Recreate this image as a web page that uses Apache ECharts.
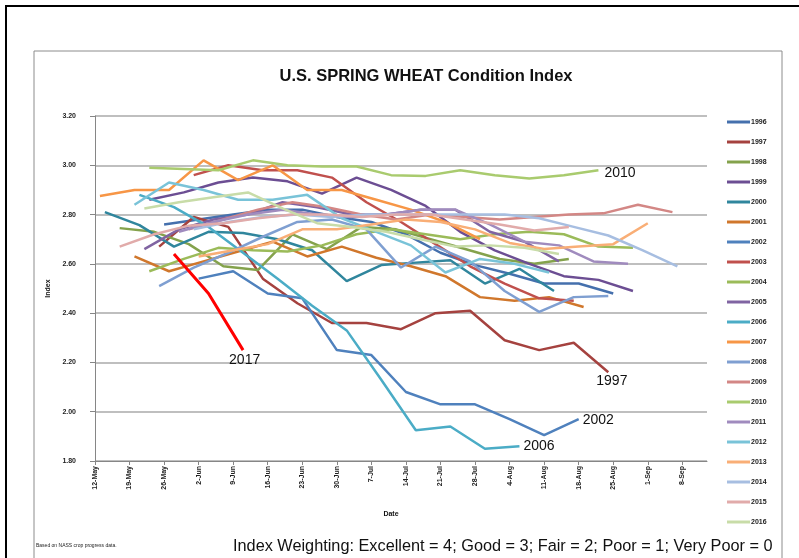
<!DOCTYPE html>
<html>
<head>
<meta charset="utf-8">
<script src="https://cdn.jsdelivr.net/npm/echarts@6/dist/echarts.min.js"></script>
<style>
html,body{margin:0;padding:0;background:#fff;}
#c{width:799px;height:558px;}
</style>
</head>
<body>
<div id="c"></div>
<script>
// ---- data ----
const dateLabels = ['12-May','19-May','26-May','2-Jun','9-Jun','16-Jun','23-Jun','30-Jun','7-Jul','14-Jul','21-Jul','28-Jul','4-Aug','11-Aug','18-Aug','25-Aug','1-Sep','8-Sep'];
const years = ['1996','1997','1998','1999','2000','2001','2002','2003','2004','2005','2006','2007','2008','2009','2010','2011','2012','2013','2014','2015','2016','2017'];
// first report day, counted in days after 12-May (reports are weekly)
const startDays = [14,13,5,11,2,8,21,20,11,10,9,1,13,19,11,17,8,21,20,5,10,16];
const v1996 = [2.76,2.78,2.80,2.82,2.82,2.79,2.77,2.72,2.645,2.595,2.56,2.52,2.52,2.48];
const v1997 = [2.67,2.79,2.75,2.54,2.44,2.36,2.36,2.335,2.40,2.41,2.29,2.25,2.28,2.16];
const v1998 = [2.745,2.73,2.68,2.59,2.575,2.72,2.66,2.75,2.74,2.70,2.66,2.62,2.60,2.62];
const v1999 = [2.86,2.89,2.93,2.95,2.935,2.885,2.95,2.90,2.835,2.73,2.655,2.60,2.55,2.535,2.49];
const v2000 = [2.81,2.757,2.67,2.73,2.725,2.70,2.655,2.53,2.595,2.605,2.615,2.52,2.58,2.49];
const v2001 = [2.63,2.57,2.61,2.65,2.69,2.63,2.67,2.625,2.59,2.55,2.465,2.45,2.465,2.425];
const v2002 = [2.54,2.57,2.48,2.46,2.25,2.23,2.08,2.03,2.03,1.97,1.905,1.97];
const v2003 = [2.96,3.00,2.98,2.98,2.95,2.85,2.77,2.68,2.59,2.52,2.46,2.45];
const v2004 = [2.57,2.62,2.665,2.655,2.65,2.675,2.72,2.74,2.72,2.70,2.72,2.73,2.72,2.67,2.665];
const v2005 = [2.66,2.74,2.78,2.80,2.85,2.83,2.80,2.80,2.82,2.82,2.73,2.69,2.61];
const v2006 = [2.88,2.83,2.75,2.645,2.54,2.43,2.33,2.13,1.925,1.94,1.85,1.86];
const v2007 = [2.875,2.90,2.90,3.02,2.94,3.00,2.90,2.90,2.86,2.82,2.77,2.70];
const v2008 = [2.51,2.585,2.645,2.71,2.77,2.78,2.74,2.585,2.67,2.61,2.49,2.405,2.465,2.47];
const v2009 = [2.74,2.78,2.82,2.85,2.83,2.80,2.78,2.80,2.79,2.78,2.79,2.80,2.805,2.84,2.81];
const v2010 = [2.99,2.985,2.98,3.02,3.00,2.995,2.995,2.96,2.957,2.98,2.96,2.946,2.96,2.98];
const v2011 = [2.73,2.77,2.80,2.82,2.80,2.79,2.80,2.82,2.82,2.76,2.69,2.675,2.61,2.60];
const v2012 = [2.84,2.93,2.90,2.86,2.86,2.88,2.785,2.73,2.675,2.565,2.62,2.60,2.565];
const v2013 = [2.63,2.655,2.68,2.74,2.74,2.76,2.78,2.77,2.74,2.685,2.66,2.67,2.68,2.765];
const v2014 = [2.74,2.77,2.79,2.80,2.79,2.80,2.80,2.80,2.80,2.80,2.785,2.75,2.715,2.655,2.59];
const v2015 = [2.67,2.72,2.755,2.765,2.785,2.80,2.80,2.79,2.80,2.80,2.78,2.76,2.735,2.75];
const v2016 = [2.825,2.85,2.87,2.89,2.825,2.765,2.75,2.73,2.70,2.67,2.675,2.665,2.64];
const v2017 = [2.64,2.48,2.25];
const yTicks = [1.8,2.0,2.2,2.4,2.6,2.8,3.0,3.2];
const labelledYears = ['1997','2002','2006','2010','2017'];

// ---- styling ----
const allValues = [v1996,v1997,v1998,v1999,v2000,v2001,v2002,v2003,v2004,v2005,v2006,v2007,v2008,v2009,v2010,v2011,v2012,v2013,v2014,v2015,v2016,v2017];
const colors = ['#4570AD','#A5423F','#84A24C','#6C4E93','#30869D','#D0772C','#4F81BD','#C0504D','#9BBB59','#8064A2','#4BACC6','#F79646',
  '#7F9FD1','#D38785','#A9CB6E','#A08BBE','#79C3D8','#F9AE76','#A7BEE1','#E1ABAA','#C8DCA8','#FF0000'];
const labelOffsets = {'1997':[-16,9],'2002':[0,1],'2006':[0,0],'2010':[2,3],'2017':[-18,10]};

const series = years.map((y, i) => {
  const data = allValues[i].map((v, k) => [startDays[i] + 7 * k, v]);
  const s = {
    name: y, type: 'line', data: data, symbol: 'none', smooth: false,
    color: colors[i],
    lineStyle: {width: y === '2017' ? 3 : 2.5, color: colors[i]},
    z: 2 + i
  };
  if (labelledYears.indexOf(y) >= 0) {
    s.endLabel = {show: true, formatter: y, color: '#111', fontSize: 14,
      fontFamily: 'Liberation Sans, Arial, sans-serif', offset: labelOffsets[y], distance: 4};
  }
  return s;
});

const chart = echarts.init(document.getElementById('c'), null, {renderer: 'canvas'});
chart.setOption({
  animation: false,
  backgroundColor: '#fff',
  title: {
    text: 'U.S. SPRING WHEAT Condition Index', left: 421, top: 63, textAlign: 'center',
    textStyle: {fontSize: 16.5, fontWeight: 'bold', color: '#111', fontFamily: 'Liberation Sans, Arial, sans-serif'}
  },
  legend: {
    data: years.slice(0, 21), orient: 'vertical', left: 722, top: 112,
    icon: 'rect', itemWidth: 23, itemHeight: 3, itemGap: 10, selectedMode: false,
    textStyle: {fontSize: 7, lineHeight: 10, color: '#222', fontWeight: 'bold', padding: [0, 0, 0, -4],
      fontFamily: 'Liberation Sans, Arial, sans-serif'}
  },
  grid: {left: 95, right: 92, top: 116, bottom: 97},
  xAxis: {
    type: 'value', min: 0, max: 124, interval: 7,
    name: 'Date', nameLocation: 'middle', nameGap: 50,
    nameTextStyle: {fontSize: 7, fontWeight: 'bold', color: '#111', padding: [0, 20, 0, 0]},
    axisLine: {lineStyle: {color: '#868686', width: 1}},
    axisTick: {show: true, length: 4, lineStyle: {color: '#868686'}},
    splitLine: {show: false},
    axisLabel: {rotate: 90, fontSize: 7, color: '#222', fontWeight: 'bold', margin: 5,
      showMaxLabel: false,
      formatter: function (v) { return (v % 7 === 0 && dateLabels[v / 7]) ? dateLabels[v / 7] : ''; }}
  },
  yAxis: {
    type: 'value', min: yTicks[0], max: yTicks[yTicks.length - 1], interval: 0.2,
    name: 'Index', nameLocation: 'middle', nameGap: 42, nameRotate: 90,
    nameTextStyle: {fontSize: 7, fontWeight: 'bold', color: '#111'},
    axisLine: {show: true, lineStyle: {color: '#868686', width: 1}},
    axisTick: {show: true, length: 5, lineStyle: {color: '#868686'}},
    splitLine: {show: true, lineStyle: {color: '#AAAAAA', width: 1.5}},
    axisLabel: {fontSize: 7, color: '#222', fontWeight: 'bold', margin: 19,
      formatter: function (v) { return v.toFixed(2); }}
  },
  graphic: [
    {type: 'rect', shape: {x: 6, y: 6, width: 800, height: 600}, style: {fill: 'none', stroke: '#000', lineWidth: 2}, z: 0, silent: true},
    {type: 'rect', shape: {x: 34, y: 51, width: 748, height: 560}, style: {fill: 'none', stroke: '#8C8C8C', lineWidth: 1}, z: 0, silent: true},
    {type: 'text', left: 36, top: 543, style: {text: 'Based on NASS crop progress data.', fontSize: 5, fill: '#222', fontFamily: 'Liberation Sans, Arial, sans-serif'}},
    {type: 'text', left: 233, top: 539, style: {text: 'Index Weighting: Excellent = 4; Good = 3; Fair = 2; Poor = 1; Very Poor = 0', fontSize: 16.3, fill: '#111', fontFamily: 'Liberation Sans Narrow, Arial Narrow, Liberation Sans, sans-serif'}}
  ],
  series: series
});
</script>
</body>
</html>
